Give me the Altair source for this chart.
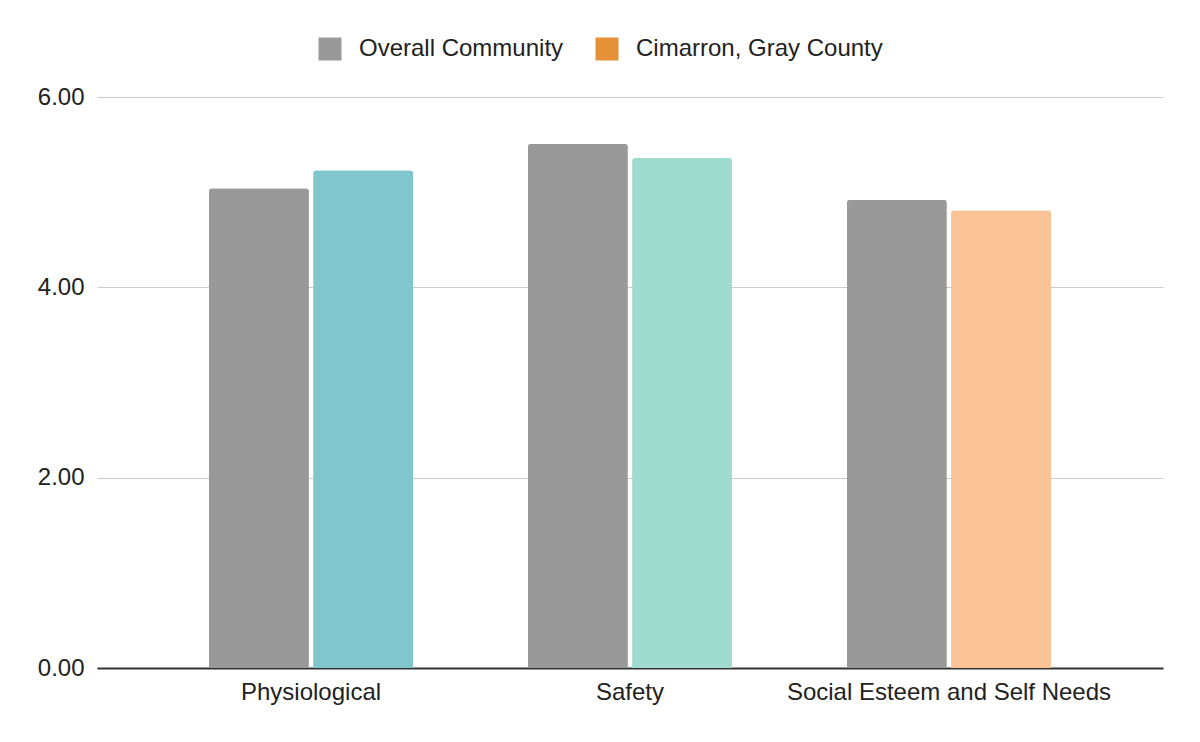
import altair as alt
import pandas as pd

categories = ["Physiological", "Safety", "Social Esteem and Self Needs"]
series = ["Overall Community", "Cimarron, Gray County"]
overall = [5.04, 5.51, 4.92]
cimarron = [5.23, 5.36, 4.81]
cimarron_colors = ["#7FC7CC", "#A0DBD0", "#F9C297"]
overall_color = "#999999"
legend_colors = ["#999999", "#E69138"]

rows = []
for i, c in enumerate(categories):
    rows.append({"category": c, "series": series[0], "value": overall[i], "fill": overall_color})
    rows.append({"category": c, "series": series[1], "value": cimarron[i], "fill": cimarron_colors[i]})
df = pd.DataFrame(rows)

FONT = "Liberation Sans"
FS = 24

x = alt.X("category:N", sort=categories, title=None,
          scale=alt.Scale(paddingInner=0.36, paddingOuter=0.351),
          axis=alt.Axis(labelAngle=0, labelFontSize=FS, labelFont=FONT, labelColor="#222222",
                        labelPadding=12, labelLimit=500, ticks=False,
                        domainColor="#333333", domainWidth=2))
y = alt.Y("value:Q", title=None,
          scale=alt.Scale(domain=[0, 6]),
          axis=alt.Axis(values=[0, 2, 4, 6], format=".2f", labelFontSize=FS, labelFont=FONT,
                        labelColor="#222222", labelPadding=13, ticks=False, domain=False,
                        gridColor="#cccccc", gridWidth=1))

bars = alt.Chart(df).mark_bar(cornerRadiusTopLeft=3, cornerRadiusTopRight=3).encode(
    x=x,
    y=y,
    xOffset=alt.XOffset("series:N", sort=series, scale=alt.Scale(paddingInner=0.04)),
    fill=alt.Fill("fill:N", scale=None),
)

legend_layer = alt.Chart(df).mark_square(opacity=0).encode(
    x=alt.X("category:N", sort=categories),
    y=alt.Y("value:Q"),
    color=alt.Color("series:N", sort=series,
                    scale=alt.Scale(domain=series, range=legend_colors),
                    legend=alt.Legend(title=None, orient="none", direction="horizontal",
                                      legendX=221, legendY=-60,
                                      symbolType="square", symbolSize=529, symbolOpacity=1,
                                      symbolStrokeWidth=0,
                                      labelFontSize=FS, labelFont=FONT, labelColor="#222222",
                                      labelLimit=500,
                                      labelOffset=17, columnPadding=31)),
)

chart = alt.layer(bars, legend_layer).resolve_scale(color="independent").properties(
    width=1066, height=571,
    background="white",
    autosize=alt.AutoSizeParams(type="none"),
    padding={"left": 89, "top": 89, "right": 20, "bottom": 50},
).configure_view(stroke=None)

chart.save("out.html", embed_options={"renderer": "svg", "actions": False})
